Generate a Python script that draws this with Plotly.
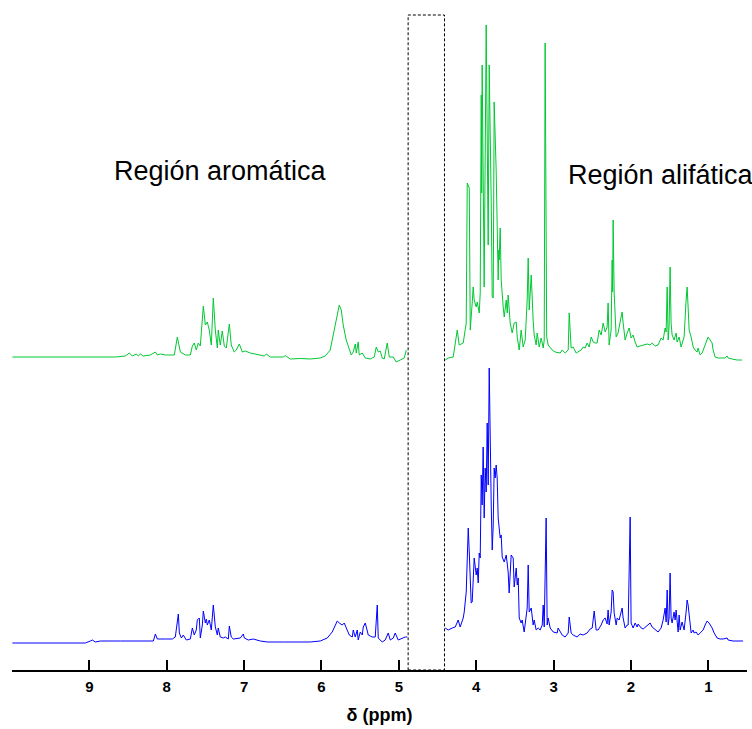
import plotly.graph_objects as go

# ---------------- data (ppm, intensity) ----------------
green_ppm = [
    9.995, 9.375, 8.664, 8.535, 8.483, 8.445, 8.393, 8.367, 8.341, 8.302, 8.212, 8.147, 8.122, 8.083, 8.018,
    7.902, 7.863, 7.824, 7.760, 7.695, 7.669, 7.644, 7.618, 7.592, 7.566, 7.527, 7.501, 7.476, 7.450, 7.424,
    7.398, 7.372, 7.346, 7.334, 7.308, 7.282, 7.256, 7.230, 7.191, 7.166, 7.127, 7.101, 7.062, 7.023, 6.985,
    6.920, 6.817, 6.739, 6.713, 6.662, 6.494, 6.468, 6.403, 6.274, 6.145, 6.016, 5.951, 5.887, 5.848, 5.809,
    5.783, 5.770, 5.744, 5.719, 5.680, 5.641, 5.615, 5.589, 5.563, 5.550, 5.525, 5.512, 5.473, 5.434, 5.370,
    5.318, 5.292, 5.266, 5.240, 5.215, 5.189, 5.150, 5.124, 5.072, 5.034, 4.982, 4.930, 4.904,
    None,
    4.401, 4.362, 4.297, 4.245, 4.220, 4.168, 4.129, 4.116, 4.090, 4.077, 4.052, 4.039, 4.026, 4.000, 3.987,
    3.961, 3.948, 3.935, 3.929, 3.923, 3.897, 3.884, 3.871, 3.845, 3.832, 3.806, 3.793, 3.780, 3.768, 3.742,
    3.716, 3.709, 3.703, 3.690, 3.677, 3.651, 3.638, 3.612, 3.599, 3.587, 3.561, 3.535, 3.509, 3.483, 3.470,
    3.444, 3.419, 3.393, 3.367, 3.341, 3.328, 3.315, 3.289, 3.264, 3.251, 3.225, 3.212, 3.186, 3.160, 3.134,
    3.121, 3.109, 3.089, 3.070, 3.018, 2.980, 2.941, 2.915, 2.889, 2.850, 2.811, 2.798, 2.773, 2.747, 2.708,
    2.682, 2.643, 2.618, 2.592, 2.566, 2.540, 2.514, 2.488, 2.463, 2.437, 2.411, 2.385, 2.359, 2.333, 2.308,
    2.295, 2.282, 2.256, 2.243, 2.237, 2.230, 2.217, 2.191, 2.166, 2.140, 2.114, 2.101, 2.075, 2.049, 2.023,
    1.998, 1.972, 1.946, 1.920, 1.881, 1.842, 1.791, 1.752, 1.726, 1.687, 1.649, 1.610, 1.584, 1.558, 1.545,
    1.532, 1.519, 1.507, 1.494, 1.481, 1.468, 1.442, 1.416, 1.403, 1.377, 1.352, 1.326, 1.313, 1.287, 1.274,
    1.261, 1.248, 1.222, 1.196, 1.171, 1.145, 1.132, 1.106, 1.080, 1.054, 1.016, 1.003, 0.977, 0.951, 0.938,
    0.912, 0.874, 0.822, 0.783, 0.757, 0.744, 0.693, 0.628, 0.563,
]
green_int = [
    3, 3, 3, 4, 7, 4, 6, 4, 6, 4, 5, 8, 5, 6, 5,
    5, 23, 8, 5, 5, 14, 17, 10, 17, 14, 54, 35, 38, 30, 15,
    62, 30, 12, 30, 15, 29, 14, 12, 36, 15, 8, 10, 16, 8, 9,
    7, 5, 4, 6, 3, 3, 4.5, 1, 1.5, 1, 2, 4, 10, 25, 42,
    52, 55, 50, 35, 20, 10, 5, 8, 16, 7, 18, 5, 7, 2, 1,
    3, 13, 8, 9, 2, 1, 17, 3, 3, -2, 0, 2, 10,
    None,
    0, 2, 3, 30, 15, 17, 37, 177, 172, 30, 57, 73, 60, 53, 58,
    47, 67, 265, 167, 295, 73, 173, 335, 115, 295, 157, 63, 62, 258, 190,
    80, 110, 100, 132, 80, 53, 43, 60, 47, 65, 37, 27, 37, 38, 23,
    10, 30, 13, 20, 60, 102, 50, 85, 40, 25, 15, 27, 13, 22, 12,
    20, 317, 23, 15, 10, 8, 7, 7, 10, 7, 10, 47, 12, 13, 7,
    8, 10, 13, 12, 17, 13, 23, 18, 17, 17, 30, 25, 37, 28, 33,
    57, 15, 30, 100, 68, 140, 67, 23, 27, 38, 48, 37, 20, 27, 32,
    22, 25, 18, 13, 14, 15, 16, 15, 17, 14, 15, 22, 20, 32, 28,
    73, 20, 33, 93, 37, 25, 20, 27, 18, 23, 13, 20, 23, 60, 73,
    53, 30, 23, 13, 10, 8, 12, 5, 7, 13, 22, 23, 20, 17, 10,
    3, 2, 2, 2, 4, 2, 1, 0, 0,
]

blue_ppm = [
    9.995, 9.052, 8.987, 8.961, 8.923, 8.858, 8.600, 8.341, 8.173, 8.147, 8.122, 8.018, 7.928, 7.889, 7.850,
    7.837, 7.811, 7.786, 7.747, 7.695, 7.669, 7.644, 7.618, 7.605, 7.579, 7.566, 7.540, 7.527, 7.501, 7.488,
    7.476, 7.450, 7.424, 7.398, 7.372, 7.346, 7.334, 7.308, 7.269, 7.243, 7.204, 7.191, 7.166, 7.140, 7.049,
    7.010, 6.997, 6.946, 6.881, 6.791, 6.700, 6.494, 6.274, 6.145, 6.016, 5.925, 5.861, 5.822, 5.796, 5.770,
    5.731, 5.706, 5.667, 5.641, 5.602, 5.589, 5.563, 5.538, 5.525, 5.499, 5.473, 5.460, 5.434, 5.395, 5.344,
    5.305, 5.279, 5.266, 5.215, 5.176, 5.137, 5.111, 5.072, 5.047, 5.008, 4.956, 4.917, 4.891,
    None,
    4.401, 4.362, 4.310, 4.271, 4.233, 4.207, 4.168, 4.155, 4.129, 4.103, 4.090, 4.065, 4.052, 4.026, 4.000,
    3.987, 3.974, 3.961, 3.948, 3.935, 3.923, 3.910, 3.897, 3.884, 3.871, 3.858, 3.845, 3.832, 3.806, 3.793,
    3.780, 3.768, 3.755, 3.742, 3.729, 3.716, 3.690, 3.677, 3.664, 3.638, 3.612, 3.587, 3.574, 3.561, 3.548,
    3.522, 3.509, 3.483, 3.470, 3.457, 3.444, 3.419, 3.406, 3.380, 3.354, 3.341, 3.328, 3.315, 3.289, 3.264,
    3.251, 3.225, 3.199, 3.173, 3.147, 3.134, 3.121, 3.096, 3.083, 3.070, 3.044, 3.005, 2.954, 2.941, 2.889,
    2.850, 2.811, 2.798, 2.773, 2.747, 2.695, 2.657, 2.618, 2.566, 2.527, 2.501, 2.475, 2.450, 2.424, 2.385,
    2.359, 2.333, 2.308, 2.295, 2.282, 2.256, 2.243, 2.230, 2.217, 2.191, 2.178, 2.153, 2.114, 2.101, 2.075,
    2.049, 2.036, 2.010, 1.998, 1.972, 1.946, 1.920, 1.907, 1.868, 1.842, 1.791, 1.752, 1.726, 1.687, 1.649,
    1.610, 1.584, 1.558, 1.545, 1.532, 1.519, 1.507, 1.494, 1.481, 1.468, 1.442, 1.429, 1.416, 1.390, 1.377,
    1.364, 1.339, 1.313, 1.287, 1.274, 1.261, 1.235, 1.222, 1.196, 1.184, 1.158, 1.132, 1.106, 1.067, 1.041,
    1.016, 0.990, 0.951, 0.925, 0.886, 0.848, 0.809, 0.757, 0.744, 0.680, 0.615, 0.551,
]
blue_int = [
    0, 0, 2, 3, 1, 2, 2, 2, 2, 9, 4, 4, 4, 6, 29,
    10, 5, 8, 3, 4, 15, 8, 13, 23, 25, 5, 18, 32, 20, 24,
    18, 23, 13, 38, 16, 8, 15, 6, 5, 6, 4, 17, 6, 4, 5,
    9, 5, 3, 4, 2, 1, 1, 1, 1, 2, 5, 11, 18, 22, 20,
    18, 20, 13, 8, 6, 13, 6, 13, 3, 11, 8, 16, 20, 8, 6,
    6, 38, 5, 1, 3, 10, 3, 5, 10, 3, 5, 6, 6,
    None,
    15, 13, 15, 16, 23, 16, 25, 31, 51, 115, 91, 40, 41, 85, 68,
    75, 60, 90, 85, 168, 138, 196, 125, 175, 151, 220, 158, 275, 138, 93,
    118, 175, 165, 178, 165, 125, 105, 108, 86, 81, 88, 71, 50, 75, 88,
    85, 56, 75, 58, 65, 25, 20, 23, 11, 31, 35, 78, 31, 35, 18,
    23, 13, 15, 13, 18, 38, 16, 125, 18, 25, 15, 11, 10, 15, 8,
    6, 10, 26, 10, 8, 6, 9, 8, 10, 14, 15, 32, 13, 13, 18,
    23, 25, 19, 33, 18, 31, 53, 51, 30, 18, 25, 23, 35, 25, 15,
    18, 18, 126, 20, 15, 20, 16, 19, 15, 14, 18, 20, 16, 13, 11,
    15, 23, 35, 21, 53, 18, 25, 70, 25, 20, 31, 23, 33, 11, 28,
    13, 21, 13, 31, 43, 38, 18, 10, 13, 10, 11, 8, 10, 13, 18,
    22, 20, 15, 10, 5, 4, 4, 5, 3, 2, 2, 2,
]

tick_vals = [9, 8, 7, 6, 5, 4, 3, 2, 1]
x_title = "δ (ppm)"
label_arom = "Región aromática"
label_alif = "Región alifática"
water_region = (4.88, 4.41)

# ---------------- layout constants ----------------
GREEN_OFFSET = 310
BLUE_OFFSET = 27
FONT = "Liberation Sans, Arial"

fig = go.Figure()
fig.add_trace(go.Scatter(
    x=green_ppm,
    y=[None if v is None else v + GREEN_OFFSET for v in green_int],
    mode="lines", line=dict(color="#00c832", width=1), connectgaps=False,
    hoverinfo="skip", showlegend=False))
fig.add_trace(go.Scatter(
    x=blue_ppm,
    y=[None if v is None else v + BLUE_OFFSET for v in blue_int],
    mode="lines", line=dict(color="#0000ff", width=1), connectgaps=False,
    hoverinfo="skip", showlegend=False))

fig.add_shape(type="rect", x0=water_region[0], x1=water_region[1], y0=0, y1=655,
              xref="x", yref="y", line=dict(color="black", width=1, dash="3px,2px"),
              fillcolor="rgba(0,0,0,0)")

fig.add_annotation(x=7.31, y=499, xref="x", yref="y", text=label_arom, showarrow=False,
                   xanchor="center", yanchor="middle",
                   font=dict(family=FONT, size=27, color="black"))
fig.add_annotation(x=2.84, y=495, xref="x", yref="y", text=label_alif, showarrow=False,
                   xanchor="left", yanchor="middle",
                   font=dict(family=FONT, size=27, color="black"))

fig.update_layout(
    width=752, height=729,
    margin=dict(l=12, r=5, t=0, b=59),
    paper_bgcolor="white", plot_bgcolor="white",
    xaxis=dict(range=[10, 0.5], tickvals=tick_vals, ticktext=[str(v) for v in tick_vals],
               ticks="inside", ticklen=10, tickwidth=1.5, tickcolor="black",
               showline=True, linecolor="black", linewidth=1.5, showgrid=False, zeroline=False,
               ticklabelstandoff=2,
               tickfont=dict(family=FONT, size=15, color="black", weight="bold"),
               title=dict(text=x_title, standoff=15,
                          font=dict(family=FONT, size=18, color="black", weight="bold"))),
    yaxis=dict(range=[0, 670], visible=False, showgrid=False, zeroline=False),
)

fig.write_html("out.html", config={"displayModeBar": False},
               post_script="document.body.style.margin='0';")
